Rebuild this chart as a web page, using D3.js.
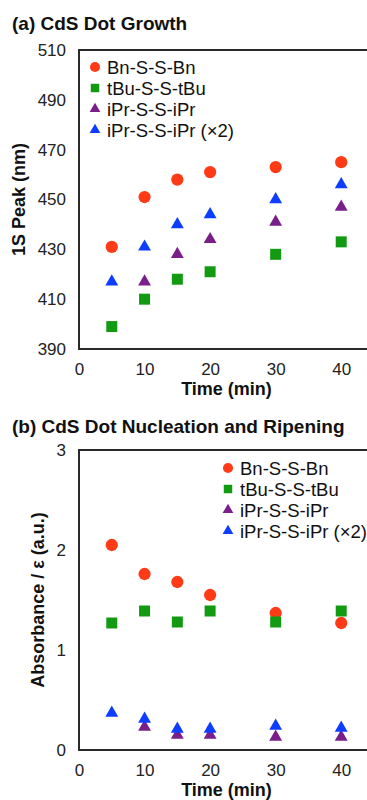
<!DOCTYPE html>
<html><head><meta charset="utf-8">
<script src="https://cdn.jsdelivr.net/npm/d3@7/dist/d3.min.js"></script>
<style>body{margin:0;background:#fff}svg{display:block;font-family:"Liberation Sans",Arial,sans-serif}</style>
</head><body><svg id="c" width="367" height="800"></svg>
<script>
const times = [5, 10, 15, 20, 30, 40];
const seriesNames = ["Bn-S-S-Bn", "tBu-S-S-tBu", "iPr-S-S-iPr", "iPr-S-S-iPr (\u00d72)"];
const seriesColors = ["#ff3a17", "#129a12", "#7a1f8a", "#0d3dff"];
const seriesShapes = ["circle", "square", "triangle", "triangle"];
// Panel (a): 1S peak (nm); null = not shown
const peakBn   = [431, 451, 458, 461, 463, 465];
const peakTBu  = [399, 410, 418, 421, 428, 433];
const peakIPr  = [null, 417, 428, 434, 441, 447];
const peakIPr2 = [417, 431, 440, 444, 450, 456];
// Panel (b): Absorbance / epsilon (a.u.)
const absBn   = [2.05, 1.76, 1.68, 1.55, 1.37, 1.27];
const absTBu  = [1.27, 1.39, 1.28, 1.39, 1.28, 1.39];
const absIPr  = [null, 0.23, 0.15, 0.15, 0.13, 0.13];
const absIPr2 = [0.37, 0.31, 0.21, 0.21, 0.24, 0.22];
const xTicks = [0, 10, 20, 30, 40];
const yTicksA = [390, 410, 430, 450, 470, 490, 510];
const yTicksB = [0, 1, 2, 3];

const svg = d3.select("#c");
const shapeMap = {circle: d3.symbolCircle, square: d3.symbolSquare, triangle: d3.symbolTriangle};
const sizeMap = {circle: 118, square: 121, triangle: 72};

function panel(cfg){
  const x = d3.scaleLinear().domain([0, 45]).range([79, 374]);
  const y = d3.scaleLinear().domain(cfg.yDomain).range([cfg.bottom, cfg.top]);
  const g = svg.append("g");
  // title
  g.append("text").attr("x", 12).attr("y", cfg.titleY).attr("font-size", 19).attr("font-weight", "bold")
    .attr("fill", "#111").text(cfg.title);
  // frame
  g.append("rect").attr("x", x(0)).attr("y", y(cfg.yDomain[1])).attr("width", x(45) - x(0))
    .attr("height", y(cfg.yDomain[0]) - y(cfg.yDomain[1])).attr("fill", "none").attr("stroke", "#2a2a2a").attr("stroke-width", 2);
  // axes via d3 (labels only, no tick marks)
  const xa = g.append("g").attr("transform", `translate(0,${cfg.bottom})`)
    .call(d3.axisBottom(x).tickValues(xTicks).tickSize(0).tickPadding(14));
  const ya = g.append("g").attr("transform", `translate(${x(0)},0)`)
    .call(d3.axisLeft(y).tickValues(cfg.yTicks).tickSize(0).tickPadding(13).tickFormat(d3.format("d")));
  [xa, ya].forEach(a => {
    a.select(".domain").remove();
    a.selectAll("text").attr("font-size", 17).attr("fill", "#222").attr("font-family", '"Liberation Sans",Arial,sans-serif');
  });
  // axis labels
  g.append("text").attr("x", (x(0) + x(45)) / 2).attr("y", cfg.bottom + 46).attr("text-anchor", "middle")
    .attr("font-size", 18).attr("font-weight", "bold").attr("fill", "#111").text("Time (min)");
  g.append("text").attr("transform", `translate(${cfg.yLabelX},${(cfg.top + cfg.bottom) / 2}) rotate(-90)`)
    .attr("text-anchor", "middle").attr("dominant-baseline", "central").attr("font-size", 18).attr("font-weight", "bold")
    .attr("fill", "#111").text(cfg.yLabel);
  // points
  cfg.data.forEach((vals, i) => {
    const sym = d3.symbol().type(shapeMap[seriesShapes[i]]).size(sizeMap[seriesShapes[i]]);
    g.append("g").selectAll("path").data(times.map((t, j) => ({t, v: vals[j]})).filter(d => d.v !== null))
      .join("path").attr("d", sym).attr("fill", seriesColors[i])
      .attr("transform", d => `translate(${x(d.t)},${y(d.v)})`);
  });
  // legend
  const lg = g.append("g");
  seriesNames.forEach((name, i) => {
    const yy = cfg.legY + i * 21;
    const small = {circle: 80, square: 72, triangle: 50}[seriesShapes[i]];
    lg.append("path").attr("d", d3.symbol().type(shapeMap[seriesShapes[i]]).size(small)())
      .attr("fill", seriesColors[i]).attr("transform", `translate(${cfg.legX},${yy})`);
    lg.append("text").attr("x", cfg.legX + 12).attr("y", yy).attr("dominant-baseline", "central")
      .attr("font-size", 18.5).attr("fill", "#111").text(name);
  });
}

panel({title: "(a) CdS Dot Growth", titleY: 30, top: 50, bottom: 349, yDomain: [390, 510], yTicks: yTicksA,
  yLabel: "1S Peak (nm)", yLabelX: 19, data: [peakBn, peakTBu, peakIPr, peakIPr2], legX: 95, legY: 67});
panel({title: "(b) CdS Dot Nucleation and Ripening", titleY: 433, top: 450, bottom: 750, yDomain: [0, 3], yTicks: yTicksB,
  yLabel: "Absorbance / \u03b5 (a.u.)", yLabelX: 38, data: [absBn, absTBu, absIPr, absIPr2], legX: 228, legY: 468});
</script></body></html>
